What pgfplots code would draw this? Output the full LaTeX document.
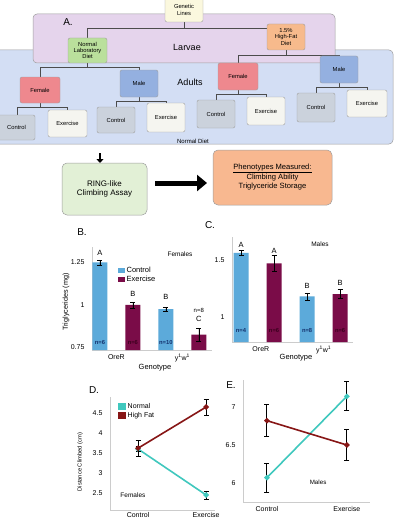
\documentclass[border=0pt]{standalone}
\usepackage{fontspec}
\setmainfont{Liberation Sans}
\usepackage{pgfplots}
\pgfplotsset{compat=1.18}
\usetikzlibrary{arrows.meta}
\definecolor{ctrl}{RGB}{92,170,218}
\definecolor{exer}{RGB}{122,12,72}
\definecolor{nrm}{RGB}{64,200,190}
\definecolor{hfat}{RGB}{135,22,22}
\definecolor{genc}{RGB}{251,248,222}
\definecolor{larv}{RGB}{229,212,236}
\definecolor{adul}{RGB}{211,222,244}
\definecolor{grn}{RGB}{186,224,156}
\definecolor{org}{RGB}{247,186,140}
\definecolor{fem}{RGB}{238,136,142}
\definecolor{mal}{RGB}{148,176,224}
\definecolor{cbox}{RGB}{203,210,220}
\definecolor{ebox}{RGB}{245,245,240}
\definecolor{ring}{RGB}{226,240,214}
\definecolor{phen}{RGB}{248,184,144}
\definecolor{nlab}{RGB}{20,50,110}
\definecolor{nlabd}{RGB}{60,0,30}
\newcommand{\bx}[6]{\draw[draw=gray!75, rounded corners=2pt, line width=0.4pt, fill=#5] (#1,#2) rectangle (#3,#4);
  \node[font=\fontsize{5.8}{6.3}\selectfont, align=center, inner sep=0pt] at ({(#1+#3)/2},{(#2+#4)/2}) {#6};}
\pgfplotsset{panel/.style={scale only axis, axis x line*=bottom, axis y line*=left,
  axis line style={gray!40, line width=0.6pt}, tick style={draw=none},
  tick label style={font=\fontsize{7}{8}\selectfont},
  /pgf/number format/assume math mode=true, clip mode=individual,
  yticklabel style={xshift=-4pt}, xticklabel style={yshift=-1pt}},
  ebar/.style={error bars/.cd, y dir=both, y explicit,
  error bar style={black, line width=0.5pt}, error mark options={rotate=90, mark size=2.5pt, black, line width=0.5pt}},
  lbar/.style={error bars/.cd, y dir=both, y explicit,
  error bar style={black, line width=1pt}, error mark options={rotate=90, mark size=2.5pt, black, line width=1pt}}}
\begin{document}
\begin{tikzpicture}
\useasboundingbox (0,0) rectangle (407pt,-519pt);
\fill[white] (0,0) rectangle (407pt,-519pt);
\begin{scope}[x=1pt,y=-1pt]
% bands
\draw[draw=gray!75, rounded corners=4pt, line width=0.5pt, fill=adul] (-5,50) rectangle (393,144);
\draw[draw=gray!75, rounded corners=4pt, line width=0.5pt, fill=larv] (33,14) rectangle (335,63);
\node[font=\fontsize{9}{10}\selectfont] at (187,47) {Larvae};
\node[font=\fontsize{9}{10}\selectfont] at (190,82) {Adults};
\node[font=\fontsize{6}{6.5}\selectfont] at (193,141) {Normal Diet};
\node[font=\fontsize{10}{11}\selectfont] at (68,22) {A.};
% connectors
\begin{scope}[draw=gray!60!black, line width=0.5pt]
\draw (184,22) -- (184,28); \draw (87,32) -- (87,28) -- (286,28) -- (286,24);
\draw (87,38) -- (87,32);
\draw (87,63) -- (87,67); \draw (40,77) -- (40,67) -- (139,67) -- (139,70);
\draw (286,50) -- (286,55); \draw (238,63) -- (238,55) -- (339,55) -- (339,56);
\draw (40,103) -- (40,107); \draw (17,115) -- (17,107) -- (67,107) -- (67,110);
\draw (139,97) -- (139,101); \draw (116,107) -- (116,101) -- (166,101) -- (166,103);
\draw (238,90) -- (238,94); \draw (216,100) -- (216,94) -- (266,94) -- (266,97);
\draw (339,83) -- (339,87); \draw (316,93) -- (316,87) -- (367,87) -- (367,90);
\end{scope}
\bx{165}{-2}{203}{22}{genc}{Genetic\\Lines}
\bx{68}{38}{107}{63}{grn}{Normal\\Laboratory\\Diet}
\bx{267}{24}{305}{50}{org}{1.5\%\\High-Fat\\Diet}
\bx{20}{77}{60}{103}{fem}{Female}
\bx{120}{70}{158}{97}{mal}{Male}
\bx{218}{63}{258}{90}{fem}{Female}
\bx{320}{56}{358}{83}{mal}{Male}
\bx{-2}{115}{35}{140}{cbox}{Control}
\bx{48}{110}{87}{137}{ebox}{Exercise}
\bx{97}{107}{135}{133}{cbox}{Control}
\bx{147}{103}{185}{132}{ebox}{Exercise}
\bx{197}{100}{235}{128}{cbox}{Control}
\bx{247}{97}{285}{125}{ebox}{Exercise}
\bx{297}{93}{335}{122}{cbox}{Control}
\bx{347}{90}{387}{117}{ebox}{Exercise}
% flow
\draw[line width=2pt, -{Triangle[length=4pt,width=7pt]}] (100,153) -- (100,163);
\draw[draw=gray!75, rounded corners=5pt, line width=0.5pt, fill=ring] (62,163) rectangle (147,215);
\node[font=\fontsize{8}{9.5}\selectfont, align=center] at (104.5,189) {RING-like\\Climbing Assay};
\draw[line width=5pt, -{Triangle[length=10pt,width=16pt]}] (155,183) -- (207,183);
\draw[draw=gray!75, rounded corners=5pt, line width=0.5pt, fill=phen] (213,150) rectangle (332,205);
\node[font=\fontsize{7.6}{8.8}\selectfont, align=center] at (272.5,177) {\underline{Phenotypes Measured:}\\Climbing Ability\\Triglyceride Storage};
% panel labels and outer texts
\node[font=\fontsize{10}{11}\selectfont] at (82,232) {B.};
\node[font=\fontsize{10}{11}\selectfont] at (210,225) {C.};
\node[font=\fontsize{10}{11}\selectfont] at (94,390) {D.};
\node[font=\fontsize{10}{11}\selectfont] at (231,385) {E.};
\node[font=\fontsize{7.2}{8}\selectfont, rotate=90] at (66,302) {Triglycerides (mg)};
\node[font=\fontsize{7.5}{8}\selectfont] at (155,368) {Genotype};
\node[font=\fontsize{7.5}{8}\selectfont] at (296,358) {Genotype};
\node[font=\fontsize{5.8}{6}\selectfont, rotate=90] at (80,462) {Distance Climbed (cm)};
\end{scope}
% ---------- Panel B ----------
\begin{axis}[panel, at={(92pt,-350pt)}, anchor=south west, width=120pt, height=103pt,
  xmin=0.76, xmax=4.4, ymin=0.735, ymax=1.34, ytick={0.75,1,1.25}, yticklabels={0.75,1,1.25},
  xtick={1.5,3.5}, xticklabels={OreR, y\textsuperscript{1}w\textsuperscript{1}},
  legend style={at={(axis cs:1.5,1.24)}, anchor=north west, draw=none, fill=none,
    font=\fontsize{7.5}{8}\selectfont, row sep=-2pt, inner sep=1pt},
  legend cell align=left,
  legend image code/.code={\fill[#1] (0pt,-2.5pt) rectangle (7pt,2.5pt);}]
\addplot[ybar, bar width=15pt, bar shift=0pt, fill=ctrl, draw=none, ebar] coordinates {(1,1.25) +- (0,0.015) (3,0.975) +- (0,0.012)};
\addplot[ybar, bar width=15pt, bar shift=0pt, fill=exer, draw=none, ebar] coordinates {(2,1.0) +- (0,0.018) (4,0.825) +- (0,0.04)};
\legend{Control, Exercise}
\begin{scope}[font=\fontsize{7.5}{8}\selectfont]
\node at (axis cs:1,1.303) {A};
\node at (axis cs:2,1.065) {B};
\node at (axis cs:3,1.045) {B};
\node at (axis cs:4,0.915) {C};
\node[font=\fontsize{6}{6.5}\selectfont] at (axis cs:4,0.968) {n=8};
\node[font=\bfseries\fontsize{5.8}{6.5}\selectfont, text=nlab] at (axis cs:1,0.78) {n=6};
\node[font=\bfseries\fontsize{5.8}{6.5}\selectfont, text=nlabd] at (axis cs:2,0.78) {n=6};
\node[font=\bfseries\fontsize{5.8}{6.5}\selectfont, text=nlab] at (axis cs:3,0.78) {n=10};
\node[font=\fontsize{6.5}{7}\selectfont] at (axis cs:3.43,1.30) {Females};
\end{scope}
\end{axis}
% ---------- Panel C ----------
\begin{axis}[panel, at={(232pt,-342pt)}, anchor=south west, width=121pt, height=105pt,
  xmin=0.727, xmax=4.39, ymin=0.78, ymax=1.7, ytick={1,1.5}, yticklabels={1,1.5},
  xtick={1.6,3.5}, xticklabels={OreR, y\textsuperscript{1}w\textsuperscript{1}}]
\addplot[ybar, bar width=15pt, bar shift=0pt, fill=ctrl, draw=none, ebar] coordinates {(1,1.56) +- (0,0.02) (3,1.18) +- (0,0.03)};
\addplot[ybar, bar width=15pt, bar shift=0pt, fill=exer, draw=none, ebar] coordinates {(2,1.47) +- (0,0.07) (4,1.2) +- (0,0.04)};
\begin{scope}[font=\fontsize{7.5}{8}\selectfont]
\node at (axis cs:1,1.63) {A};
\node at (axis cs:2,1.58) {A};
\node at (axis cs:3,1.27) {B};
\node at (axis cs:4,1.30) {B};
\node[font=\bfseries\fontsize{5.8}{6.5}\selectfont, text=nlab] at (axis cs:1,0.885) {n=4};
\node[font=\bfseries\fontsize{5.8}{6.5}\selectfont, text=nlabd] at (axis cs:2,0.885) {n=6};
\node[font=\bfseries\fontsize{5.8}{6.5}\selectfont, text=nlab] at (axis cs:3,0.885) {n=8};
\node[font=\bfseries\fontsize{5.8}{6.5}\selectfont, text=nlabd] at (axis cs:4,0.885) {n=6};
\node[font=\fontsize{6.5}{7}\selectfont] at (axis cs:3.39,1.64) {Males};
\end{scope}
\end{axis}
% ---------- Panel D ----------
\begin{axis}[panel, at={(110pt,-510pt)}, anchor=south west, width=105pt, height=113pt,
  xmin=0.588, xmax=2.13, ymin=2.075, ymax=4.9, ytick={2.5,3,3.5,4,4.5}, yticklabels={2.5,3,3.5,4,4.5},
  xtick={1,2}, xticklabels={Control, Exercise}, xticklabel style={yshift=2pt},
  legend style={at={(axis cs:0.69,4.82)}, anchor=north west, draw=none, fill=none,
    font=\fontsize{7}{7.5}\selectfont, row sep=-1.5pt, inner sep=1pt},
  legend cell align=left,
  legend image code/.code={\fill[#1] (0pt,-2.5pt) rectangle (6pt,2.5pt);}]
\addplot[color=nrm, fill=nrm, line width=1.6pt, mark=*, mark size=1.8pt, lbar] coordinates {(1,3.6) +- (0,0.06) (2,2.45) +- (0,0.1)};
\addplot[color=hfat, fill=hfat, line width=1.6pt, mark=*, mark size=1.8pt, lbar] coordinates {(1,3.62) +- (0,0.2) (2,4.65) +- (0,0.2)};
\legend{Normal, High Fat}
\node[font=\fontsize{6.5}{7}\selectfont, anchor=west] at (axis cs:0.69,2.45) {Females};
\end{axis}
% ---------- Panel E ----------
\begin{axis}[panel, at={(243pt,-502pt)}, anchor=south west, width=127pt, height=122pt,
  xmin=0.7, xmax=2.29, ymin=5.75, ymax=7.355, ytick={6,6.5,7}, yticklabels={6,6.5,7},
  xtick={1,2}, xticklabels={Control, Exercise}]
\addplot[color=nrm, fill=nrm, line width=1.6pt, mark=*, mark size=1.8pt, lbar] coordinates {(1,6.07) +- (0,0.19) (2,7.14) +- (0,0.19)};
\addplot[color=hfat, fill=hfat, line width=1.6pt, mark=*, mark size=1.8pt, lbar] coordinates {(1,6.82) +- (0,0.21) (2,6.5) +- (0,0.2)};
\node[font=\fontsize{6.2}{7}\selectfont] at (axis cs:1.64,6.01) {Males};
\end{axis}
\end{tikzpicture}
\end{document}
